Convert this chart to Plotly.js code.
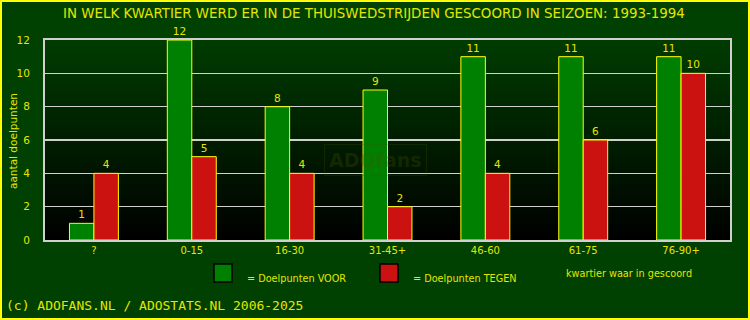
<!DOCTYPE html>
<html><head><meta charset="utf-8">
<script src="https://cdn.plot.ly/plotly-3.0.1.min.js"></script>
<style>html,body{margin:0;padding:0;background:#004000;}#c{width:750px;height:320px;}</style>
</head><body><div id="c"></div>
<script>
const categories = ["?", "0-15", "16-30", "31-45+", "46-60", "61-75", "76-90+"];
const voor = [1, 12, 8, 9, 11, 11, 11];
const tegen = [4, 5, 4, 2, 4, 6, 10];
const yTicks = [0, 2, 4, 6, 8, 10, 12];
const titleText = "IN WELK KWARTIER WERD ER IN DE THUISWEDSTRIJDEN GESCOORD IN SEIZOEN: 1993-1994";
const yTitle = "aantal doelpunten";

const yellow = "#ffff00";
const txtYellow = "#e6e600";
const grad = 'data:image/svg+xml;utf8,' + encodeURIComponent(
 '<svg xmlns="http://www.w3.org/2000/svg" width="100" height="100" preserveAspectRatio="none"><defs><linearGradient id="g" x1="0" y1="0" x2="0" y2="1"><stop offset="0" stop-color="#003c00"/><stop offset="1" stop-color="#000000"/></linearGradient></defs><rect width="100" height="100" fill="url(#g)"/></svg>');

const common = {type: "bar", x: categories, textposition: "outside", cliponaxis: false,
  textfont: {color: txtYellow, size: 10.5, family: "DejaVu Sans"}, hoverinfo: "none"};
const data = [
  Object.assign({}, common, {y: voor, text: voor.map(String), name: "voor",
    marker: {color: "#008000", line: {color: yellow, width: 1}}}),
  Object.assign({}, common, {y: tegen, text: tegen.map(String), name: "tegen",
    marker: {color: "#cc1111", line: {color: yellow, width: 1}}})
];
const layout = {
  width: 750, height: 320,
  margin: {l: 45, r: 20, t: 40, b: 80},
  paper_bgcolor: "#004000", plot_bgcolor: "rgba(0,0,0,0)",
  showlegend: false, barmode: "group", bargap: 0.5, bargroupgap: 0,
  font: {family: "DejaVu Sans", color: txtYellow, size: 10.5},
  xaxis: {showgrid: false, zeroline: false, showline: true, linecolor: "#d0d0d0", linewidth: 2, mirror: true,
    tickfont: {color: txtYellow, size: 10}, ticks: "", fixedrange: true},
  yaxis: {range: [0, 12], tickvals: yTicks, showgrid: true, gridcolor: "#d0d0d0", gridwidth: 1.5,
    zeroline: false, showline: true, linecolor: "#d0d0d0", linewidth: 2, mirror: true, ticks: "",
    ticklabelstandoff: 11,
    tickfont: {color: txtYellow, size: 10.5}},
  images: [{source: grad, xref: "paper", yref: "paper", x: 0, y: 1, sizex: 1, sizey: 1,
    sizing: "stretch", layer: "below", xanchor: "left", yanchor: "top"}],
  shapes: [
    {type: "rect", xref: "paper", yref: "paper", x0: (214-45)/685, x1: (232-45)/685, y0: (240-282)/200, y1: (240-264)/200,
     fillcolor: "#008000", line: {color: "#000000", width: 1.5}},
    {type: "rect", xref: "paper", yref: "paper", x0: (380-45)/685, x1: (398-45)/685, y0: (240-282)/200, y1: (240-264)/200,
     fillcolor: "#cc1111", line: {color: "#000000", width: 1.5}}
  ],
  annotations: [
    {text: titleText, xref: "paper", yref: "paper", x: (374-45)/685, y: (240-13)/200, showarrow: false,
     font: {color: txtYellow, size: 13.4, family: "DejaVu Sans"}, xanchor: "center", yanchor: "middle"},
    {text: yTitle, xref: "paper", yref: "paper", x: (13-45)/685, y: (240-141)/200, showarrow: false, textangle: -90,
     font: {color: txtYellow, size: 10.5, family: "DejaVu Sans"}, xanchor: "center", yanchor: "middle"},
    {text: "= Doelpunten VOOR", xref: "paper", yref: "paper", x: (245-45)/685, y: (240-278)/200, showarrow: false,
     font: {color: txtYellow, size: 9.7}, xanchor: "left", yanchor: "middle"},
    {text: "= Doelpunten TEGEN", xref: "paper", yref: "paper", x: (411-45)/685, y: (240-278)/200, showarrow: false,
     font: {color: txtYellow, size: 9.7}, xanchor: "left", yanchor: "middle"},
    {text: "kwartier waar in gescoord", xref: "paper", yref: "paper", x: (564-45)/685, y: (240-273)/200, showarrow: false,
     font: {color: txtYellow, size: 9.7}, xanchor: "left", yanchor: "middle"},
    {text: "(c) ADOFANS.NL / ADOSTATS.NL 2006-2025", xref: "paper", yref: "paper", x: (4-45)/685, y: (240-305)/200, showarrow: false,
     font: {color: txtYellow, size: 13, family: "DejaVu Sans Mono"}, xanchor: "left", yanchor: "middle"},
    {text: "<b>ADOfans</b>", xref: "paper", yref: "paper", x: (375-45)/685, y: (240-160)/200, showarrow: false,
     font: {color: "rgba(70,80,0,0.3)", size: 19, family: "DejaVu Sans"}, bordercolor: "rgba(70,80,0,0.25)", borderwidth: 1, borderpad: 4,
     xanchor: "center", yanchor: "middle"}
  ]
};
Plotly.newPlot("c", data, layout, {staticPlot: true, displayModeBar: false});
</script>
<div style="position:absolute;left:0;top:0;width:746px;height:316px;border:2px solid #ffff00;pointer-events:none;"></div>
</body></html>
